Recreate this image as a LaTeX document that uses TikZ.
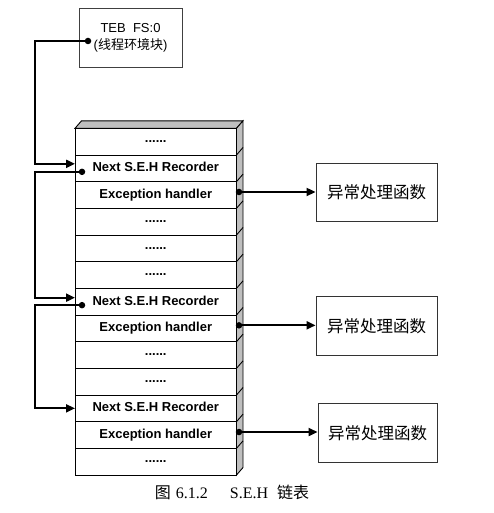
\documentclass[tikz,border=0pt]{standalone}
\usepackage{fontspec}
\setmainfont{Liberation Serif}
\setsansfont{Liberation Sans}
\newfontfamily\cjk{Noto Sans CJK SC}
\usepackage{tikz}
\usetikzlibrary{arrows.meta,positioning}

\begin{document}
\begin{tikzpicture}[x=1pt,y=-1pt,
		cell/.style={draw=black, line width=0.9pt, fill=white, minimum width=161.5pt, minimum height=26.67pt, inner sep=0pt, outer sep=0pt, font=\sffamily\bfseries\fontsize{13pt}{15pt}\selectfont},
		field/.style={cell, text height=9.5pt, text depth=2.5pt},
		tebbox/.style={draw=black!75, line width=0.9pt, minimum width=103pt, minimum height=59pt, align=center, inner sep=0pt, font=\sffamily\fontsize{13pt}{17pt}\selectfont},
		fnbox/.style={draw=black!80, line width=0.9pt, minimum width=121pt, minimum height=58.4pt, inner sep=0pt, font=\cjk\fontsize{16.5pt}{18pt}\selectfont},
		pin/.style={circle, fill=black, inner sep=0pt, minimum size=6.5pt},
		link/.style={line width=2pt, -{Triangle[length=9pt,width=8pt]}}]
	\useasboundingbox (0,0) rectangle (494,513);

	\node[tebbox] (teb) at (130.5,37.5) {TEB\ \ FS:0\\({\cjk 线程环境块})};

	% the stack, top to bottom
	\node[cell] (r1) at (155.75,141.65) {......};
	\node[field] (r2) [below=0pt of r1] {Next S.E.H Recorder};
	\node[field] (r3) [below=0pt of r2] {Exception handler};
	\node[cell] (r4) [below=0pt of r3] {......};
	\node[cell] (r5) [below=0pt of r4] {......};
	\node[cell] (r6) [below=0pt of r5] {......};
	\node[field] (r7) [below=0pt of r6] {Next S.E.H Recorder};
	\node[field] (r8) [below=0pt of r7] {Exception handler};
	\node[cell] (r9) [below=0pt of r8] {......};
	\node[cell] (r10) [below=0pt of r9] {......};
	\node[field] (r11) [below=0pt of r10] {Next S.E.H Recorder};
	\node[field] (r12) [below=0pt of r11] {Exception handler};
	\node[cell] (r13) [below=0pt of r12] {......};

	% top and side faces
	\filldraw[fill=gray!50, line width=0.9pt] (r1.north west) -- ++(6.5,-7.5) -- ([shift={(6.5,-7.5)}]r1.north east) -- (r1.north east) -- cycle;
	\filldraw[fill=gray!50, line width=0.9pt] (r1.north east) -- ++(6.5,-7.5) -- ([shift={(6.5,-7.5)}]r13.south east) -- (r13.south east) -- cycle;
	\foreach \i in {1,...,12}
		\draw[line width=0.9pt] (r\i.south east) -- ++(6.5,-7.5);

	\node[fnbox] (fn1) at (376.5,192.5) {异常处理函数};
	\node[fnbox] (fn2) at (376.5,325.8) {异常处理函数};
	\node[fnbox, minimum width=119pt] (fn3) at (377.5,432.8) {异常处理函数};

	\node[pin] (tebdot) at (88,41) {};
	\node[pin] (n2dot) at ([xshift=7pt,yshift=-3.5pt]r2.west) {};
	\node[pin] (n7dot) at ([xshift=7pt,yshift=-3.5pt]r7.west) {};
	\node[pin] (h3dot) at ([xshift=2.5pt,yshift=3pt]r3.east) {};
	\node[pin] (h8dot) at ([xshift=2.5pt,yshift=3pt]r8.east) {};
	\node[pin] (h12dot) at ([xshift=2.5pt,yshift=3pt]r12.east) {};

	% next pointers
	\draw[link] (tebdot.center) -| ([xshift=-40pt,yshift=4.5pt]r2.west) -- ([yshift=4.5pt]r2.west);
	\draw[link] (n2dot.center) -| ([xshift=-40pt,yshift=4pt]r7.west) -- ([yshift=4pt]r7.west);
	\draw[link] (n7dot.center) -| ([xshift=-40pt]r11.west) -- (r11.west);

	% handlers
	\draw[link] (h3dot.center) -- (h3dot.center -| fn1.west);
	\draw[link] (h8dot.center) -- (h8dot.center -| fn2.west);
	\draw[link] (h12dot.center) -- (h12dot.center -| fn3.west);

	\node[font=\fontsize{16pt}{18pt}\selectfont] (caption) at (232,492) {{\cjk 图}\hspace{5pt}6.1.2\hspace{22pt}S.E.H\hspace{9pt}{\cjk 链表}};
\end{tikzpicture}
\end{document}
